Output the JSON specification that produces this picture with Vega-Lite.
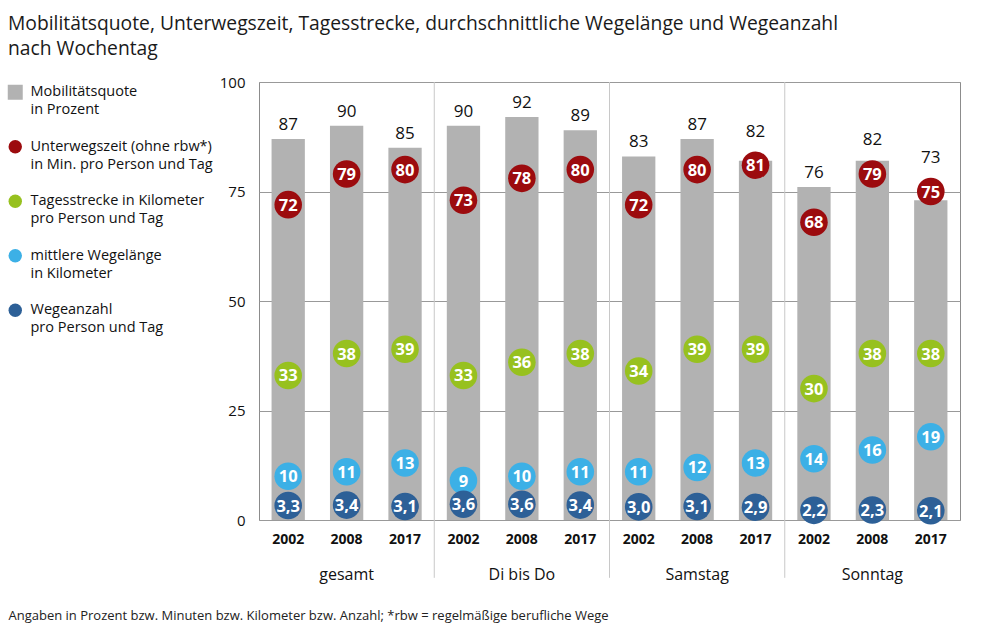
{
  "$schema": "https://vega.github.io/schema/vega-lite/v6.json",
  "width": 701,
  "height": 438,
  "autosize": {"type": "none"},
  "padding": {"left": 259, "top": 82, "right": 31, "bottom": 108},
  "config": {
    "font": "Open Sans",
    "view": {"stroke": "#8c8c8c", "strokeWidth": 1}
  },
  "title": {
    "text": ["Mobilitätsquote, Unterwegszeit, Tagesstrecke, durchschnittliche Wegelänge und Wegeanzahl", "nach Wochentag"],
    "anchor": "start",
    "frame": "group",
    "dx": -251,
    "dy": -6,
    "fontSize": 19.3,
    "fontWeight": "normal",
    "color": "#1a1a1a",
    "lineHeight": 25,
    "baseline": "top",
    "offset": 10
  },
  "data": {
    "values": [
      {"group": "gesamt", "year": "2002", "quote": 87, "zeit": 72, "strecke": 33, "laenge": 10, "anzahl": 3.3},
      {"group": "gesamt", "year": "2008", "quote": 90, "zeit": 79, "strecke": 38, "laenge": 11, "anzahl": 3.4},
      {"group": "gesamt", "year": "2017", "quote": 85, "zeit": 80, "strecke": 39, "laenge": 13, "anzahl": 3.1},
      {"group": "Di bis Do", "year": "2002", "quote": 90, "zeit": 73, "strecke": 33, "laenge": 9, "anzahl": 3.6},
      {"group": "Di bis Do", "year": "2008", "quote": 92, "zeit": 78, "strecke": 36, "laenge": 10, "anzahl": 3.6},
      {"group": "Di bis Do", "year": "2017", "quote": 89, "zeit": 80, "strecke": 38, "laenge": 11, "anzahl": 3.4},
      {"group": "Samstag", "year": "2002", "quote": 83, "zeit": 72, "strecke": 34, "laenge": 11, "anzahl": 3.0},
      {"group": "Samstag", "year": "2008", "quote": 87, "zeit": 80, "strecke": 39, "laenge": 12, "anzahl": 3.1},
      {"group": "Samstag", "year": "2017", "quote": 82, "zeit": 81, "strecke": 39, "laenge": 13, "anzahl": 2.9},
      {"group": "Sonntag", "year": "2002", "quote": 76, "zeit": 68, "strecke": 30, "laenge": 14, "anzahl": 2.2},
      {"group": "Sonntag", "year": "2008", "quote": 82, "zeit": 79, "strecke": 38, "laenge": 16, "anzahl": 2.3},
      {"group": "Sonntag", "year": "2017", "quote": 73, "zeit": 75, "strecke": 38, "laenge": 19, "anzahl": 2.1}
    ]
  },
  "transform": [{"calculate": "datum.group + '|' + datum.year", "as": "key"}],
  "encoding": {
    "x": {
      "field": "key",
      "type": "nominal",
      "sort": null,
      "scale": {"paddingInner": 0, "paddingOuter": 0},
      "axis": {
        "labelExpr": "split(datum.value, '|')[1]",
        "labelAngle": 0,
        "labelFontSize": 14,
        "labelFontWeight": "bold",
        "labelColor": "#111111",
        "labelPadding": 12,
        "labelBaseline": "top",
        "domain": false,
        "ticks": false,
        "grid": false,
        "title": "Angaben in Prozent bzw. Minuten bzw. Kilometer bzw. Anzahl; *rbw = regelmäßige berufliche Wege",
        "titleX": -251,
        "titleY": 95,
        "titleAlign": "left",
        "titleAnchor": "start",
        "titleBaseline": "middle",
        "titleFontSize": 13,
        "titleFontWeight": "normal",
        "titleColor": "#222222"
      }
    }
  },
  "layer": [
    {
      "mark": {"type": "bar", "width": {"band": 0.57}, "fill": "#b2b2b2"},
      "encoding": {
        "y": {
          "field": "quote",
          "type": "quantitative",
          "scale": {"domain": [0, 100], "nice": false},
          "axis": {
            "values": [0, 25, 50, 75, 100],
            "title": null,
            "domain": false,
            "ticks": false,
            "gridColor": "#999999",
            "gridWidth": 1,
            "gridOpacity": 1,
            "labelFontSize": 15,
            "labelColor": "#111111",
            "labelPadding": 14
          }
        },
        "color": {"datum": "quote", "type": "nominal"}
      }
    },
    {
      "transform": [{"calculate": "max(datum.quote, datum.zeit + 4.5)", "as": "lp"}],
      "mark": {"type": "text", "fontSize": 17, "color": "#111111", "baseline": "alphabetic", "dy": -9},
      "encoding": {
        "y": {"field": "lp", "type": "quantitative"},
        "text": {"field": "quote", "type": "quantitative"}
      }
    },
    {
      "transform": [{"filter": "datum.year == '2002' && datum.group != 'gesamt'"}],
      "mark": {"type": "rule", "color": "#c8c8c8", "strokeWidth": 1},
      "encoding": {
        "x": {"field": "key", "type": "nominal", "sort": null, "bandPosition": 0},
        "y": {"datum": 100, "type": "quantitative"},
        "y2": {"datum": -13.2}
      }
    },
    {
      "transform": [{"filter": "datum.year == '2008'"}],
      "mark": {"type": "text", "fontSize": 16, "color": "#111111", "baseline": "middle"},
      "encoding": {
        "y": {"datum": -12.5, "type": "quantitative"},
        "text": {"field": "group", "type": "nominal"}
      }
    },
    {
      "transform": [{"fold": ["zeit", "strecke", "laenge", "anzahl"], "as": ["series", "value"]}],
      "mark": {"type": "point", "filled": true, "size": 760, "opacity": 1, "shape": "circle"},
      "encoding": {
        "y": {"field": "value", "type": "quantitative"},
        "color": {
          "field": "series",
          "type": "nominal",
          "scale": {
            "domain": ["quote", "zeit", "strecke", "laenge", "anzahl"],
            "range": ["#b2b2b2", "#9c0b0e", "#97c11f", "#3cb0e6", "#2d6097"]
          },
          "legend": {
            "orient": "none",
            "legendX": -251,
            "legendY": 3,
            "title": null,
            "padding": 0,
            "symbolType": "circle",
            "symbolSize": 180,
            "symbolOpacity": 1,
            "symbolStrokeWidth": 0,
            "labelFontSize": 14.5,
            "labelColor": "#111111",
            "labelLimit": 300,
            "labelOffset": 8,
            "rowPadding": 21.5,
            "labelExpr": "datum.value == 'quote' ? ['Mobilitätsquote', 'in Prozent'] : datum.value == 'zeit' ? ['Unterwegszeit (ohne rbw*)', 'in Min. pro Person und Tag'] : datum.value == 'strecke' ? ['Tagesstrecke in Kilometer', 'pro Person und Tag'] : datum.value == 'laenge' ? ['mittlere Wegelänge', 'in Kilometer'] : ['Wegeanzahl', 'pro Person und Tag']",
            "encode": {
              "symbols": {
                "update": {
                  "shape": {"signal": "datum.value == 'quote' ? 'square' : 'circle'"},
                  "size": {"signal": "datum.value == 'quote' ? 225 : 180"}
                }
              },
              "labels": {"update": {"lineHeight": {"value": 18}}}
            }
          }
        }
      }
    },
    {
      "transform": [
        {"fold": ["zeit", "strecke", "laenge", "anzahl"], "as": ["series", "value"]},
        {"calculate": "datum.series == 'anzahl' ? replace(format(datum.value, '.1f'), '.', ',') : format(datum.value, 'd')", "as": "lbl"}
      ],
      "mark": {"type": "text", "fontSize": 16.5, "fontWeight": "bold", "color": "#ffffff", "baseline": "middle", "dy": 1},
      "encoding": {
        "y": {"field": "value", "type": "quantitative"},
        "text": {"field": "lbl", "type": "nominal"}
      }
    }
  ]
}
